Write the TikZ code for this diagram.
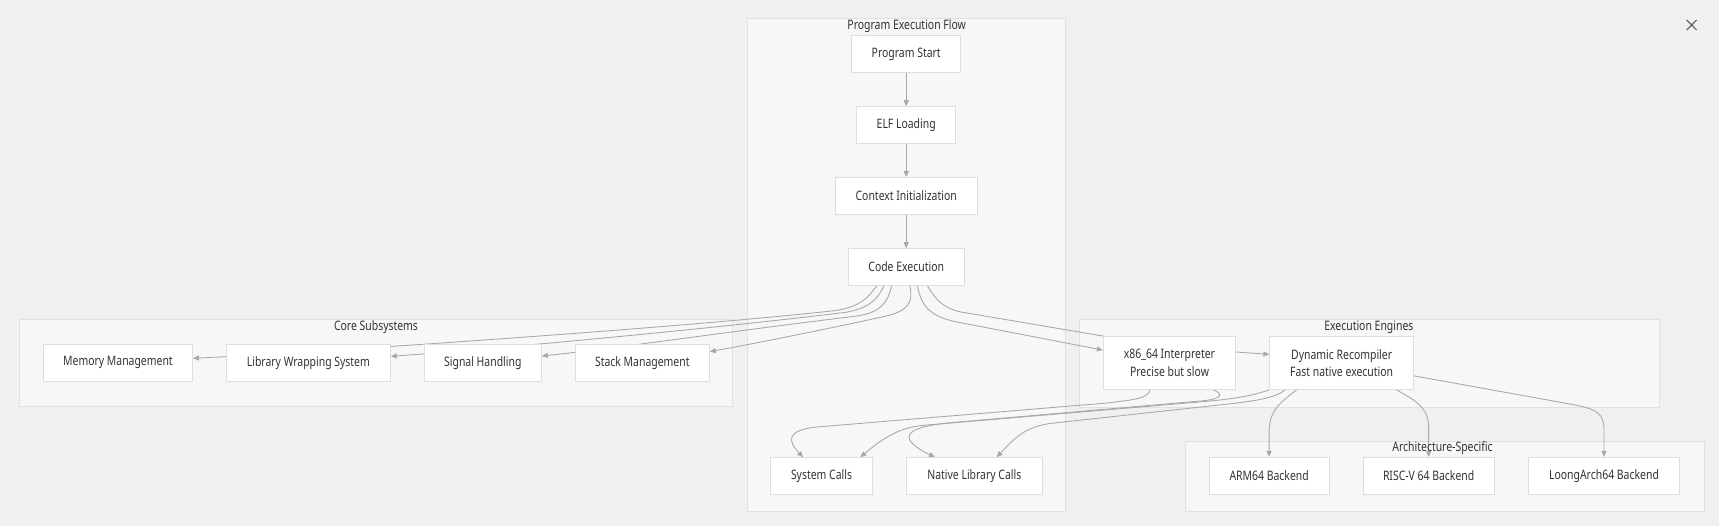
\documentclass[tikz,border=0pt]{standalone}
\usepackage{fontspec}
\setmainfont{Noto Sans}[FakeStretch=0.8]
\usetikzlibrary{arrows.meta}
\definecolor{bgc}{RGB}{241,240,239}
\definecolor{clfill}{RGB}{247,247,247}
\definecolor{clline}{RGB}{225,225,225}
\definecolor{nodeline}{RGB}{222,222,222}
\definecolor{edgec}{RGB}{168,168,168}
\definecolor{txt}{RGB}{51,51,51}
\definecolor{iconc}{RGB}{100,100,100}
\pgfdeclarelayer{bg}
\pgfdeclarelayer{edges}
\pgfsetlayers{bg,edges,main}
\begin{document}
\begin{tikzpicture}[x=1pt,y=-1pt,
  box/.style={draw=nodeline, fill=white, line width=0.8pt, inner sep=0pt, text=txt,
    font=\fontsize{11.9}{15.8}\selectfont, align=center, minimum height=33.4pt},
  tallbox/.style={box, minimum height=48pt},
  cluster/.style={draw=clline, fill=clfill, line width=0.8pt, inner sep=0pt, anchor=north west},
  ttl/.style={text=txt, inner sep=0pt, font=\fontsize{11.9}{14}\selectfont},
  edge/.style={draw=edgec, line width=0.8pt, -{Triangle[length=5.5pt,width=4.6pt]}},
  icon/.style={draw=iconc, line width=1.1pt}]
\useasboundingbox (0,0) rectangle (1568,479.8);

% clusters
\begin{pgfonlayer}{bg}
\fill[bgc] (0,0) rectangle (1568,479.8);
\node[cluster, minimum width=290.7pt, minimum height=449.1pt] (pef) at (681,16.7) {};
\node[cluster, minimum width=650.8pt, minimum height=79pt] (core) at (17.2,291.3) {};
\node[cluster, minimum width=528.6pt, minimum height=79.7pt] (eng) at (984.3,291.3) {};
\node[cluster, minimum width=472.9pt, minimum height=64.1pt] (arch) at (1081,402) {};
\end{pgfonlayer}
\node[ttl] (pefT) at (827,23.7) {Program Execution Flow};
\node[ttl] (coreT) at (343,298.6) {Core Subsystems};
\node[ttl] (engT) at (1248.6,298.6) {Execution Engines};
\node[ttl] (archT) at (1315.8,409) {Architecture-Specific};

% nodes
\node[box, minimum width=99.7pt] (ps) at (826.6,49.3) {Program Start};
\node[box, minimum width=90.3pt] (elf) at (826.6,114) {ELF Loading};
\node[box, minimum width=129.2pt] (ctx) at (826.6,178.6) {Context Initialization};
\node[box, minimum width=106.1pt] (ce) at (826.6,243.55) {Code Execution};
\node[box, minimum width=92.7pt] (sys) at (749.35,434.2) {System Calls};
\node[box, minimum width=123.5pt] (nat) at (888.75,434.2) {Native Library Calls};
\node[box, minimum width=136pt] (mem) at (107.6,330.8) {Memory Management};
\node[box, minimum width=149.4pt] (lib) at (281.3,330.8) {Library Wrapping System};
\node[box, minimum width=106.8pt] (sig) at (440.4,330.8) {Signal Handling};
\node[box, minimum width=122.2pt] (stk) at (585.9,330.8) {Stack Management};
\node[tallbox, minimum width=120.7pt] (int) at (1066.75,331.1) {x86\_64 Interpreter\\Precise but slow};
\node[tallbox, minimum width=131pt] (rec) at (1223.8,331.1) {Dynamic Recompiler\\Fast native execution};
\node[box, minimum width=109.5pt] (arm) at (1157.65,433.9) {ARM64 Backend};
\node[box, minimum width=119.7pt] (rv) at (1303.15,433.9) {RISC-V 64 Backend};
\node[box, minimum width=137.6pt] (la) at (1463.1,433.9) {LoongArch64 Backend};

% close icon
\coordinate (xa) at (1538.5,18.2);
\coordinate (xb) at (1547.6,27.4);
\coordinate (xc) at (1547.6,18.2);
\coordinate (xd) at (1538.5,27.4);
\draw[icon] (xa) -- (xb);
\draw[icon] (xc) -- (xd);

% edges
\begin{pgfonlayer}{edges}
\draw[edge] (ps) -- (elf);
\draw[edge] (elf) -- (ctx);
\draw[edge] (ctx) -- (ce);
% to core subsystems
\draw[edge] ([xshift=-26.9pt]ce.south) .. controls (791,273) and (783,280) .. (762,283.3)
  .. controls (600,301) and (260,323) .. ([yshift=4pt]mem.east);
\draw[edge] ([xshift=-20.2pt]ce.south) .. controls (800,274) and (792,281) .. (772,284.8)
  .. controls (640,301) and (430,320) .. ([yshift=5.8pt]lib.east);
\draw[edge] ([xshift=-13.3pt]ce.south) .. controls (810,276) and (803,285) .. (782,288.2)
  .. controls (660,303) and (560,318) .. ([yshift=6.1pt]sig.east);
\draw[edge] ([xshift=3.4pt]ce.south) .. controls (833,276) and (829,284) .. (805,289)
  .. controls (760,299) and (690,313) .. ([yshift=10pt]stk.east);
% to engines
\draw[edge] ([xshift=10.2pt]ce.south) .. controls (840,276) and (845,288) .. (872,293.5)
  -- ([yshift=11.8pt]int.west);
\draw[edge] ([xshift=19.3pt]ce.south) .. controls (852,270) and (857,280) .. (876,284.5)
  -- (1006,306.5) .. controls (1080,318) and (1125,321) .. ([yshift=7.9pt]rec.west);
% to system / native calls
\draw[edge] ([xshift=-17.75pt]int.south) .. controls (1048,363) and (1035,365) .. (1005,368)
  -- (745,389.5) .. controls (716,392.5) and (719,403) .. ([xshift=-16.65pt]sys.north);
\draw[edge] ([xshift=39.95pt]int.south) .. controls (1115,359) and (1116,363.5) .. (1098,365.5)
  -- (868,385.5) .. controls (818,390) and (822,402) .. ([xshift=-35.85pt]nat.north);
\draw[edge] (rec.south west) .. controls (1140,362) and (1120,364.5) .. (1090,367)
  -- (842,388) .. controls (820,390) and (805,400) .. ([xshift=35.25pt]sys.north);
\draw[edge] ([xshift=-51.5pt]rec.south) .. controls (1165,362) and (1150,365) .. (1125,368)
  -- (960,386) .. controls (935,389) and (925,400) .. ([xshift=20.35pt]nat.north);
% to backends
\draw[edge] ([xshift=-40.9pt]rec.south) .. controls (1165,369) and (1157.6,376) .. (1157.6,395)
  -- (arm.north);
\draw[edge] ([xshift=49.8pt]rec.south) .. controls (1291,365) and (1303.15,372) .. (1303.15,390)
  -- (rv.north);
\draw[edge] ([yshift=-11.7pt]rec.east) -- (1438,369.6) .. controls (1457,373.5) and (1463.1,378) .. (1463.1,392)
  -- (la.north);
\end{pgfonlayer}
\end{tikzpicture}
\end{document}
